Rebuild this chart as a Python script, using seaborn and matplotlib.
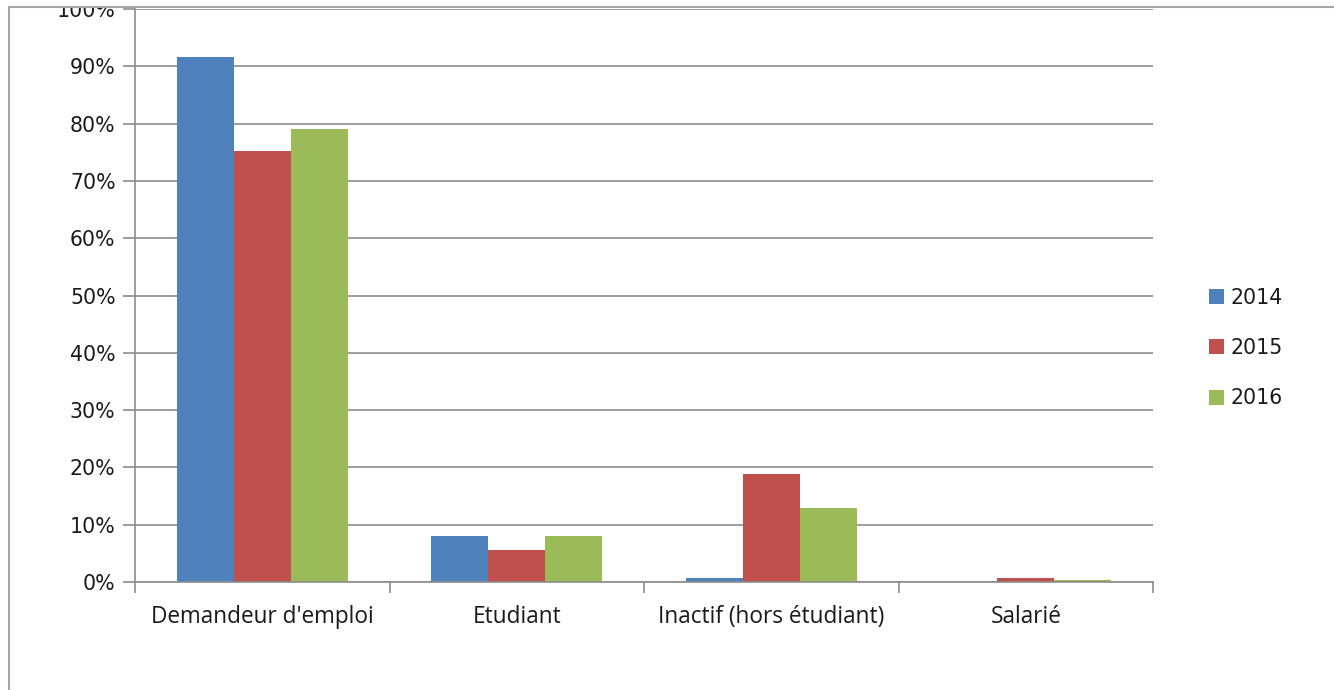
import matplotlib
matplotlib.use("Agg")
import matplotlib.pyplot as plt
import seaborn as sns
import pandas as pd
from matplotlib.lines import Line2D
from matplotlib.patches import Rectangle
from matplotlib.ticker import FixedLocator, FuncFormatter

categories = ["Demandeur d'emploi", "Etudiant", "Inactif (hors étudiant)", "Salarié"]
years = ["2014", "2015", "2016"]
v2014 = [0.916, 0.080, 0.007, 0.0]
v2015 = [0.752, 0.056, 0.188, 0.007]
v2016 = [0.790, 0.080, 0.129, 0.004]
colors = ["#4F81BD", "#C0504D", "#9BBB59"]

rows = []
for yr, vals in zip(years, [v2014, v2015, v2016]):
    for c, v in zip(categories, vals):
        rows.append({"cat": c, "year": yr, "val": v})
df = pd.DataFrame(rows)

sns.set_theme(style="white")
plt.rcParams['font.family'] = ['DejaVu Sans']

FS_Y = 14.8
FS_X = 16.3
fig = plt.figure(figsize=(13.34, 6.9), dpi=100)
ax = fig.add_axes([135/1334, 1-582/690, (1153-135)/1334, (582-9)/690])

sns.barplot(data=df, x="cat", y="val", hue="year", order=categories, hue_order=years,
            palette=colors, width=0.67, gap=0, saturation=1, ax=ax, legend=True,
            edgecolor="none", linewidth=0)

grid_c = "#8C8C8C"
ax.set_ylim(0, 1.0)
ax.set_xlim(-0.5, 3.5)
ax.set_yticks([i/10 for i in range(11)])
ax.yaxis.set_major_formatter(FuncFormatter(lambda v, p: f"{int(round(v*100))}%"))
ax.yaxis.grid(True, color=grid_c, linewidth=1.2)
ax.set_axisbelow(True)
ax.set_xlabel("")
ax.set_ylabel("")
for s in ["top", "right"]:
    ax.spines[s].set_visible(False)
for s in ["left", "bottom"]:
    ax.spines[s].set_color(grid_c)
    ax.spines[s].set_linewidth(1.2)

ax.tick_params(axis="y", which="major", length=9, width=1.2, color=grid_c, left=True,
               labelsize=FS_Y, labelcolor="#1a1a1a", pad=5)
ax.tick_params(axis="x", which="major", length=0, labelsize=FS_X, labelcolor="#1a1a1a", pad=16.5)
for lbl in ax.get_xticklabels():
    lbl.set_fontfamily(['Open Sans', 'DejaVu Sans'])
ax.xaxis.set_minor_locator(FixedLocator([-0.5, 0.5, 1.5, 2.5, 3.5]))
ax.tick_params(axis="x", which="minor", length=8, width=1.2, color=grid_c, bottom=True)

leg = ax.get_legend()
handles = leg.legend_handles
leg.remove()
fig.legend(handles, years, loc="center left", bbox_to_anchor=(1190/1334, 1-348/690),
           frameon=False, handlelength=0.75, handleheight=0.75, handletextpad=0.3,
           labelspacing=1.47, fontsize=FS_Y, labelcolor="#1a1a1a")

# clip everything above the frame
fig.add_artist(Rectangle((0, 1-7/690), 1, 7/690, transform=fig.transFigure,
                         facecolor="white", edgecolor="none", zorder=50))
# outer frame of the chart area
bc = "#A6A6A6"
fig.add_artist(Line2D([8.5/1334, 8.5/1334], [0, 1-7/690], transform=fig.transFigure, color=bc, lw=1.5, zorder=60))
fig.add_artist(Line2D([8.5/1334, 1], [1-7/690, 1-7/690], transform=fig.transFigure, color=bc, lw=1.5, zorder=60))

fig.savefig("out.png", dpi=100)
